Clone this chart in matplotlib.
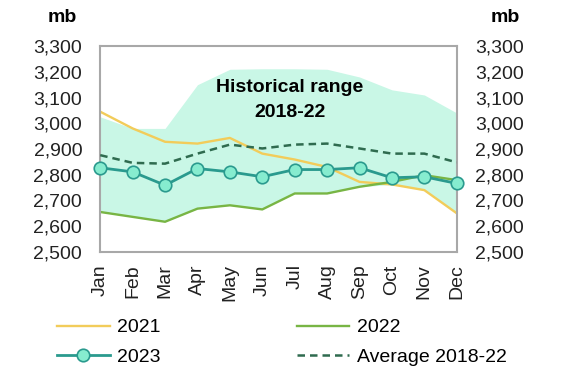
import numpy as np
import matplotlib.pyplot as plt
from matplotlib.ticker import FuncFormatter

plt.rcParams['font.family'] = ['Liberation Sans', 'DejaVu Sans']

months = ['Jan', 'Feb', 'Mar', 'Apr', 'May', 'Jun',
          'Jul', 'Aug', 'Sep', 'Oct', 'Nov', 'Dec']
range_high = [3025, 2980, 2980, 3150, 3210, 3212, 3212, 3210, 3180, 3130, 3110, 3040]
range_low = [2655, 2636, 2617, 2668, 2681, 2665, 2727, 2727, 2753, 2762, 2740, 2650]
y2021 = [3045, 2980, 2928, 2921, 2943, 2882, 2859, 2830, 2772, 2762, 2740, 2650]
y2022 = [2655, 2636, 2617, 2668, 2681, 2665, 2727, 2727, 2753, 2772, 2798, 2779]
y2023 = [2827, 2811, 2759, 2824, 2811, 2792, 2820, 2820, 2827, 2788, 2792, 2766]
avg = [2876, 2846, 2843, 2882, 2917, 2902, 2917, 2921, 2902, 2882, 2882, 2848]

x = np.arange(len(months))

fig = plt.figure(figsize=(5.76, 3.72), dpi=100)
ax = fig.add_axes([0.174, 0.323, 0.619, 0.553])

ax.fill_between(x, range_low, range_high, color='#c9f7e6', lw=0, zorder=1)
l21, = ax.plot(x, y2021, color='#f2cc5a', lw=1.7, label='2021', zorder=2)
l22, = ax.plot(x, y2022, color='#78b544', lw=1.7, label='2022', zorder=2)
lav, = ax.plot(x, avg, color='#2f6b4f', lw=1.8, ls=(0, (3, 2)), label='Average 2018-22', zorder=3)
l23, = ax.plot(x, y2023, color='#2a9a8e', lw=2, marker='o', ms=9,
               mfc='#86eccf', mec='#2a9a8e', mew=1.2, label='2023', zorder=4, clip_on=False)

ax.text(5.85, 3092, 'Historical range\n2018-22', ha='center', va='center',
        fontsize=14, fontweight='bold', linespacing=1.6, zorder=5)

ax.set_xlim(0, 11)
ax.set_ylim(2500, 3300)
ax.set_yticks(np.arange(2500, 3301, 100))
ax.yaxis.set_major_formatter(FuncFormatter(lambda v, p: f'{int(v):,}'))
ax.set_xticks(x)
ax.set_xticklabels(months, rotation=90)
ax.tick_params(axis='both', length=0, labelsize=14, colors='#222222')
ax.tick_params(axis='y', pad=13)
ax.tick_params(axis='x', pad=9)
ax.tick_params(axis='y', labelright=True, right=False)
for sp in ax.spines.values():
    sp.set_color('#a8a8a8')
    sp.set_linewidth(1.5)

fig.text(0.082, 0.952, 'mb', fontsize=14, fontweight='bold', ha='left', va='center')
fig.text(0.851, 0.952, 'mb', fontsize=14, fontweight='bold', ha='left', va='center')

# column-wise fill: 2021 / 2023 in the first column, 2022 / average in the second
fig.legend([l21, l23, l22, lav], ['2021', '2023', '2022', 'Average 2018-22'],
           ncol=2, frameon=False, loc='upper left', bbox_to_anchor=(0.099, 0.143),
           borderaxespad=0, borderpad=0, fontsize=14,
           handlelength=2.7, handletextpad=0.4, columnspacing=7.0,
           labelspacing=0.6)

fig.savefig('out.png', dpi=100)
